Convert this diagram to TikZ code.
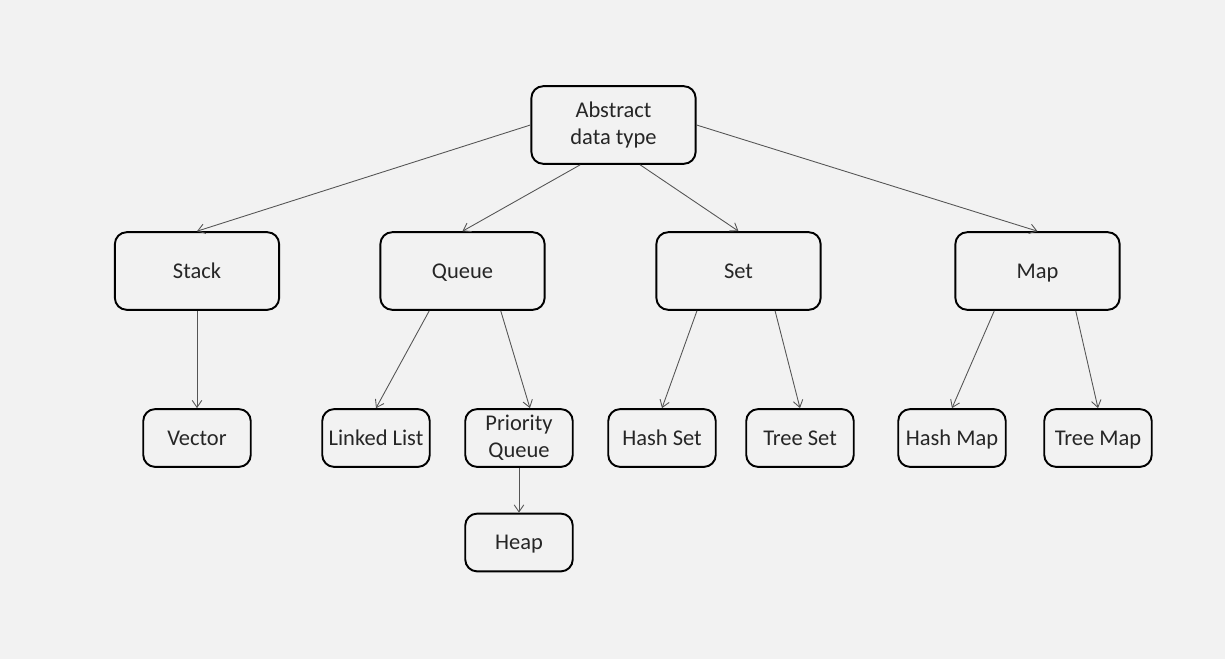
\documentclass[tikz,border=0pt]{standalone}
\usepackage{fontspec}
\setmainfont{Carlito}
\usetikzlibrary{calc,arrows.meta}
\definecolor{bgcol}{HTML}{F2F2F2}
\definecolor{linkcol}{HTML}{555555}
\tikzset{
	box/.style={draw=black, line width=1.1pt, rounded corners=6.8pt, align=center,
		font=\fontsize{12.8}{15.5}\selectfont, inner sep=0pt, text=black!85,
		text height=11pt, text depth=2.8pt},
	twoline/.style={text height={}, text depth={}},
	bigbox/.style={box, minimum width=93.5pt, minimum height=44.2pt},
	smallbox/.style={box, minimum width=61.2pt, minimum height=32.9pt},
	link/.style={draw=linkcol, line width=0.5pt, -{Straight Barb[length=4pt,width=5.5pt]}}
}
\begin{document}
\begin{tikzpicture}[x=0.02cm, y=-0.02cm]
			%%%%% START %%%%%
			
			\fill[bgcol] (0, 0) rectangle (1225, 659);
			\useasboundingbox (0, 0) rectangle (1225, 659);
			
			% top level
			\node[bigbox, twoline] (adt) at (613.5, 125) {Abstract\\data type};
			
			% second level
			\node[bigbox] (stack) at (197, 271) {Stack};
			\node[bigbox] (queue) at (462.5, 271) {Queue};
			\node[bigbox] (set) at (738.5, 271) {Set};
			\node[bigbox] (map) at (1037.5, 271) {Map};
			
			% third level
			\node[smallbox] (vector) at (197, 438) {Vector};
			\node[smallbox] (llist) at (376, 438) {Linked List};
			\node[smallbox, twoline] (pqueue) at (519, 438) {Priority\\Queue};
			\node[smallbox] (hset) at (662, 438) {Hash Set};
			\node[smallbox] (tset) at (800, 438) {Tree Set};
			\node[smallbox] (hmap) at (952, 438) {Hash Map};
			\node[smallbox] (tmap) at (1098, 438) {Tree Map};
			
			\node[smallbox] (heap) at (519, 542.5) {Heap};
			
			% links
			\draw[link] (adt.west) -- (stack.north);
			\draw[link] ($(adt.south west)!0.3!(adt.south east)$) -- (queue.north);
			\draw[link] ($(adt.south west)!0.66!(adt.south east)$) -- (set.north);
			\draw[link] (adt.east) -- (map.north);
			
			\draw[link] (stack.south) -- (vector.north);
			\draw[link] ($(queue.south west)!0.3!(queue.south east)$) -- (llist.north);
			\draw[link] ($(queue.south west)!0.73!(queue.south east)$) -- ($(pqueue.north west)!0.6!(pqueue.north east)$);
			\draw[link] ($(set.south west)!0.25!(set.south east)$) -- (hset.north);
			\draw[link] ($(set.south west)!0.72!(set.south east)$) -- (tset.north);
			\draw[link] ($(map.south west)!0.24!(map.south east)$) -- (hmap.north);
			\draw[link] ($(map.south west)!0.73!(map.south east)$) -- (tmap.north);
			
			\draw[link] (pqueue.south) -- (heap.north);
			
			%%%%% END %%%%%
\end{tikzpicture}
\end{document}
